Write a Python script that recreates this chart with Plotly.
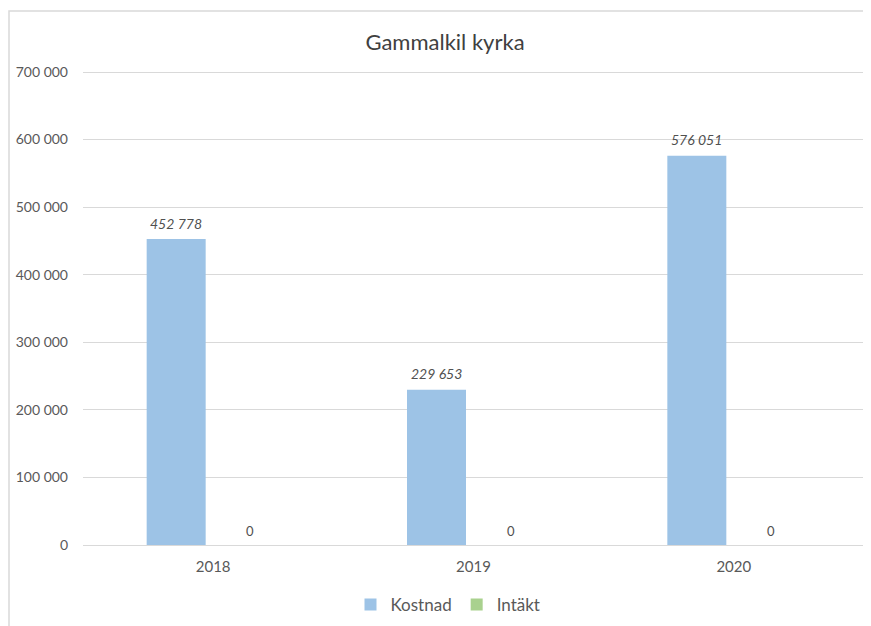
import plotly.graph_objects as go

years = ["2018", "2019", "2020"]
kostnad = [452778, 229653, 576051]
intakt = [0, 0, 0]
y_ticks = [0, 100000, 200000, 300000, 400000, 500000, 600000, 700000]

# page has an 8px body margin; figure sized/positioned to compensate
W, H = 863, 618
ml, mr, mt, mb = 75, 7, 62, 81
pw = W - ml - mr
ph = H - mt - mb
cat_px = pw / 3.0
bw = 59 / cat_px
half_gap = 37 / cat_px
y_top = 700000 * ph / 473.0


def fmt(v):
    return f"{v:,d}".replace(",", " ")


fig = go.Figure()
fig.add_trace(go.Bar(
    x=years, y=kostnad, name="Kostnad",
    marker=dict(color="#9DC3E6", line=dict(width=0)),
    width=bw, offset=-half_gap - bw / 2,
))
fig.add_trace(go.Bar(
    x=years, y=intakt, name="Intäkt",
    marker=dict(color="#A9D18E", line=dict(width=0)),
    width=bw, offset=half_gap - bw / 2,
))

annotations = []
for i, v in enumerate(kostnad):
    annotations.append(dict(x=i, y=v, xref="x", yref="y", text=fmt(v), showarrow=False,
                            xshift=-37, yshift=16, yanchor="middle",
                            font=dict(family="Lato", size=14, color="#505050", style="italic")))
for i, v in enumerate(intakt):
    annotations.append(dict(x=i, y=v, xref="x", yref="y", text=fmt(v), showarrow=False,
                            xshift=37, yshift=14, yanchor="middle",
                            font=dict(family="Lato", size=13, color="#505050")))

fig.update_layout(
    width=W, height=H,
    margin=dict(l=ml, r=mr, t=mt, b=mb, autoexpand=False),
    barmode="overlay",
    separators=", ",
    paper_bgcolor="white", plot_bgcolor="white",
    font=dict(family="Lato", color="#595959"),
    title=dict(text="Gammalkil kyrka", x=437 / W, xanchor="center", y=1 - 34 / H, yanchor="middle",
               font=dict(family="Lato", size=22, color="#404040")),
    showlegend=True,
    legend=dict(orientation="h", x=(440 - ml) / pw, xanchor="center", y=-(597 - (mt + ph)) / ph,
                yanchor="middle",
                font=dict(family="Lato", size=17, color="#595959"), traceorder="normal",
                itemwidth=30),
    annotations=annotations,
    xaxis=dict(type="category", range=[-0.5, 2.5], showgrid=False, showline=True,
               linecolor="#D9D9D9", linewidth=1, ticks="", tickfont=dict(size=15, color="#595959"),
               ticklabelstandoff=8, automargin=False),
    yaxis=dict(range=[0, y_top], tickvals=y_ticks, tickformat=",d", showgrid=True,
               gridcolor="#D9D9D9", gridwidth=1, zeroline=False, showline=False,
               tickfont=dict(size=14, color="#595959"), ticklabelstandoff=14, automargin=False),
    shapes=[dict(type="rect", xref="paper", yref="paper",
                 x0=(1 - ml) / pw, x1=1.1, y0=-0.3, y1=(mt + ph - 3) / ph,
                 line=dict(color="#D9D9D9", width=1.5), fillcolor="rgba(0,0,0,0)", layer="below")],
)

fig.write_html("out.html")
